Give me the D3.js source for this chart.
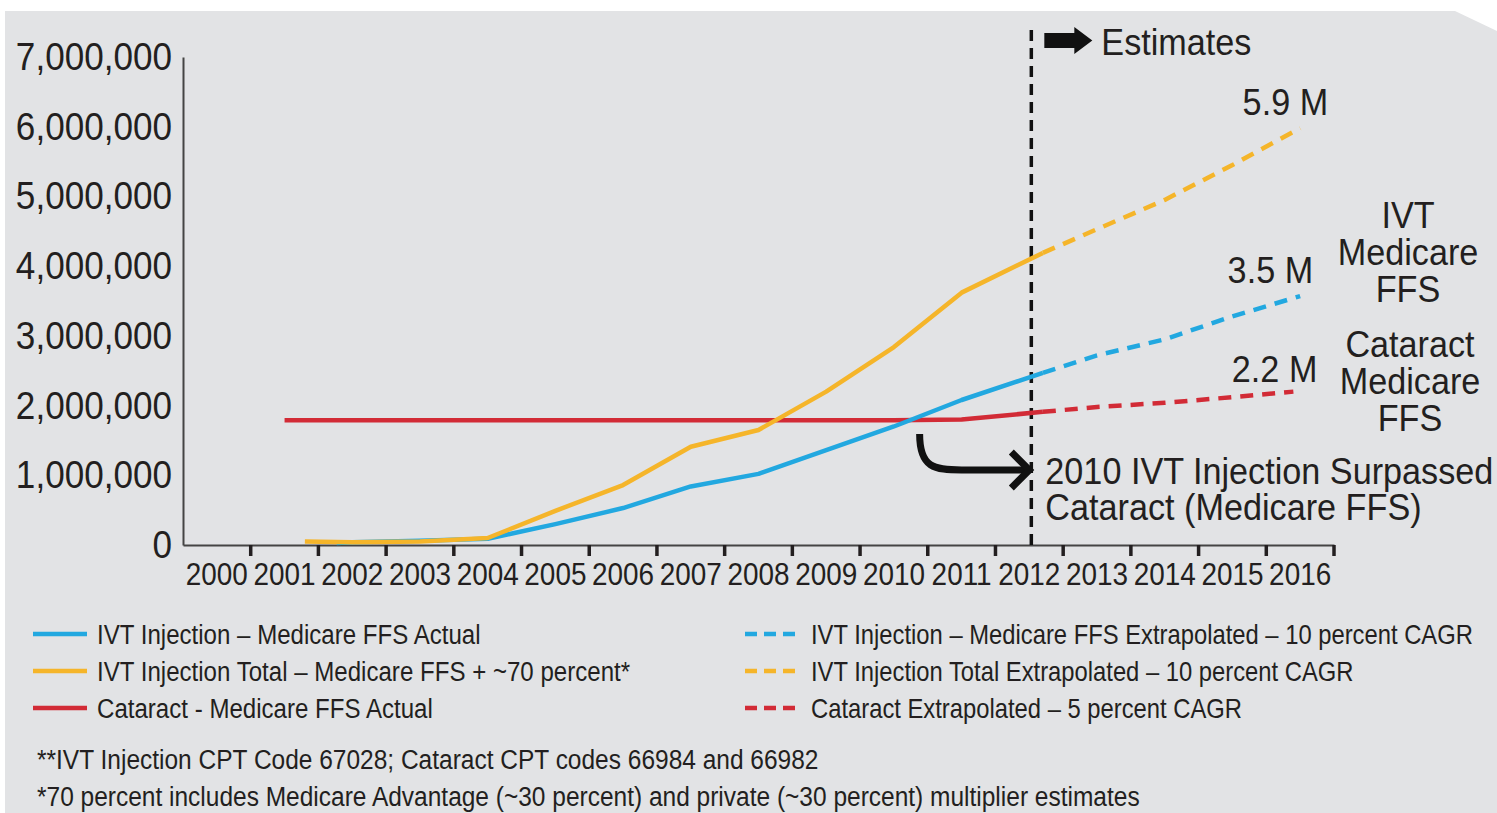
<!DOCTYPE html>
<html>
<head>
<meta charset="utf-8">
<script src="https://cdn.jsdelivr.net/npm/d3@7"></script>
<style>
  html, body { margin: 0; padding: 0; background: #fff; }
  svg { display: block; }
  text { font-family: "Liberation Sans", Arial, Helvetica, sans-serif; fill: #231f20; }
</style>
</head>
<body>
<div id="chart"></div>
<script>
// tick labels
const yearLabels = ["2000","2001","2002","2003","2004","2005","2006","2007","2008","2009","2010","2011","2012","2013","2014","2015","2016"];
const yTicks = [0, 1000000, 2000000, 3000000, 4000000, 5000000, 6000000, 7000000];

// actual series (millions)
const ivtActualYears = [2001.77, 2002, 2003, 2004, 2005, 2006, 2007, 2008, 2009, 2010, 2011, 2012.2];
const ivtActual      = [0.03, 0.04, 0.06, 0.09, 0.30, 0.53, 0.84, 1.02, 1.36, 1.70, 2.08, 2.47];
const ivtTotalYears  = [2001.3, 2002, 2003, 2004, 2005, 2006, 2007, 2008, 2009, 2010, 2011, 2012.2];
const ivtTotal       = [0.05, 0.04, 0.05, 0.10, 0.49, 0.86, 1.41, 1.65, 2.20, 2.84, 3.62, 4.19];
const cataractYears  = [2001, 2002, 2003, 2004, 2005, 2006, 2007, 2008, 2009, 2010, 2011, 2012.2];
const cataract       = [1.79, 1.79, 1.79, 1.79, 1.79, 1.79, 1.79, 1.79, 1.79, 1.79, 1.80, 1.91];

// extrapolated series (millions)
const projYears         = [2012.2, 2013, 2014, 2015, 2016];
const ivtActualProj     = [2.47, 2.72, 2.95, 3.28, 3.57];
const ivtTotalProj      = [4.19, 4.53, 4.95, 5.45, 5.98];
const cataractProjYears = [2012.2, 2013, 2014, 2015, 2015.9];
const cataractProj      = [1.91, 1.98, 2.04, 2.12, 2.20];

const splitYear = 2012;

const endValues = ["5.9 M", "3.5 M", "2.2 M"];
const legendLeft  = ["IVT Injection – Medicare FFS Actual", "IVT Injection Total – Medicare FFS + ~70 percent*", "Cataract - Medicare FFS Actual"];
const legendRight = ["IVT Injection – Medicare FFS Extrapolated – 10 percent CAGR", "IVT Injection Total Extrapolated – 10 percent CAGR", "Cataract Extrapolated – 5 percent CAGR"];
const footnotes = ["**IVT Injection CPT Code 67028; Cataract CPT codes 66984 and 66982",
                   "*70 percent includes Medicare Advantage (~30 percent) and private (~30 percent) multiplier estimates"];

const colors = ["#22a8e0", "#f5b52a", "#d22b36"];

const W = 1497, H = 813;
const svg = d3.select("#chart").append("svg").attr("width", W).attr("height", H);

// condensed-looking text: squeeze horizontally around the anchor point
function label(parent, x, y, str, size, k, anchor = "start") {
  return parent.append("text")
               .attr("transform", `translate(${x},${y}) scale(${k},1)`)
               .attr("text-anchor", anchor)
               .style("font-size", size + "px")
               .text(str);
}

// gray panel with clipped top-right corner
svg.append("path")
   .attr("d", `M5,11 L1455,11 L1497,31 L1497,${H} L5,${H} Z`)
   .attr("fill", "#e2e3e5");

const x = d3.scaleBand(yearLabels, [183, 1334]);
const bw = x.bandwidth();
const xp = d3.scaleLinear([2000, 2016], [x("2000") + bw / 2, x("2016") + bw / 2]);
const y = d3.scaleLinear([0, 7000000], [545, 57]);

// y axis
const ky = 0.9;
svg.append("g")
   .attr("transform", "translate(183,0)")
   .call(d3.axisLeft(y).tickValues(yTicks).tickFormat(d3.format(",")).tickSize(0).tickPadding(11))
   .call(g => g.select(".domain").attr("stroke", "#444").attr("stroke-width", 2))
   .call(g => g.selectAll("text")
               .style("font-size", "39px")
               .attr("fill", "#231f20")
               .attr("x", -11 / ky)
               .attr("transform", `scale(${ky},1)`));

// x axis: labels centred in bands, ticks on band edges
svg.append("g")
   .attr("transform", "translate(0,545)")
   .call(d3.axisBottom(x).tickSize(0).tickPadding(18))
   .call(g => g.select(".domain").attr("stroke", "#444").attr("stroke-width", 2))
   .call(g => g.selectAll("text")
               .style("font-size", "31px")
               .attr("fill", "#231f20")
               .attr("transform", "scale(0.9,1)"));

svg.append("g")
   .selectAll("line")
   .data(yearLabels)
   .join("line")
   .attr("x1", d => x(d) + bw)
   .attr("x2", d => x(d) + bw)
   .attr("y1", 545)
   .attr("y2", 556)
   .attr("stroke", "#231f20")
   .attr("stroke-width", 3.5);

// estimates divider
const xs = xp(splitYear);
svg.append("line")
   .attr("x1", xs + 2).attr("x2", xs + 2)
   .attr("y1", 30).attr("y2", 545)
   .attr("stroke", "#111")
   .attr("stroke-width", 3.5)
   .attr("stroke-dasharray", "11,7");

const line = d3.line()
               .x(d => xp(d[0]))
               .y(d => y(d[1] * 1e6));

const pairs = (xsArr, ysArr) => xsArr.map((v, i) => [v, ysArr[i]]);

const seriesColors = [colors[2], colors[0], colors[1]];
const solid = [pairs(cataractYears, cataract), pairs(ivtActualYears, ivtActual), pairs(ivtTotalYears, ivtTotal)];
const dashed = [pairs(cataractProjYears, cataractProj), pairs(projYears, ivtActualProj), pairs(projYears, ivtTotalProj)];

svg.append("g")
   .selectAll("path")
   .data(solid)
   .join("path")
   .attr("d", line)
   .attr("fill", "none")
   .attr("stroke", (d, i) => seriesColors[i])
   .attr("stroke-width", 4.5)
   .attr("stroke-linejoin", "round");

svg.append("g")
   .selectAll("path")
   .data(dashed)
   .join("path")
   .attr("d", line)
   .attr("fill", "none")
   .attr("stroke", (d, i) => seriesColors[i])
   .attr("stroke-width", 4.5)
   .attr("stroke-dasharray", "13,9");

const ann = svg.append("g");
const ka = 0.95, fa = 36;

// "Estimates" block arrow + text
const ax = xs + 15;
ann.append("path")
   .attr("d", `M${ax},33 L${ax + 30},33 L${ax + 30},27 L${ax + 48},40.5 L${ax + 30},54 L${ax + 30},48 L${ax},48 Z`)
   .attr("fill", "#111");
label(ann, ax + 57, 55, "Estimates", fa, ka);

// end value labels, anchored at the last point of each extrapolated series
const lastPts = [dashed[2][4], dashed[1][4], dashed[0][4]];
const endOffsets = [[28, -13], [13, -13], [24, -10]];
endValues.forEach((s, i) => {
  const p = lastPts[i];
  label(ann, xp(p[0]) + endOffsets[i][0], y(p[1] * 1e6) + endOffsets[i][1], s, fa, ka, "end");
});

// series names at the right
[[["IVT", "Medicare", "FFS"], 1408, 228], [["Cataract", "Medicare", "FFS"], 1410, 357]]
  .forEach(([lines, cx, top]) => lines.forEach((s, i) => label(ann, cx, top + i * 37, s, fa, ka, "middle")));

// 2010 crossover annotation
ann.append("path")
   .attr("d", `M${xp(2010.38)},434 C${xp(2010.38)},468 ${xp(2010.6)},470 ${xp(2011)},470 L${xs - 4},470`)
   .attr("fill", "none")
   .attr("stroke", "#111")
   .attr("stroke-width", 7);
ann.append("path")
   .attr("d", `M${xs - 18},452 L${xs},470 L${xs - 18},488`)
   .attr("fill", "none")
   .attr("stroke", "#111")
   .attr("stroke-width", 7);
label(ann, xs + 16, 484, "2010 IVT Injection Surpassed", fa, ka);
label(ann, xs + 16, 520, "Cataract (Medicare FFS)", fa, ka);

// legend
const kl = 0.86, fl = 28;
const legendRows = [634, 671, 708];
const lg = svg.append("g");
legendLeft.forEach((s, i) => {
  lg.append("line")
    .attr("x1", 33).attr("x2", 87)
    .attr("y1", legendRows[i]).attr("y2", legendRows[i])
    .attr("stroke", colors[i])
    .attr("stroke-width", 4.5);
  label(lg, 97, legendRows[i] + 10, s, fl, kl);
});
legendRight.forEach((s, i) => {
  lg.append("line")
    .attr("x1", 745).attr("x2", 801)
    .attr("y1", legendRows[i]).attr("y2", legendRows[i])
    .attr("stroke", colors[i])
    .attr("stroke-width", 4.5)
    .attr("stroke-dasharray", "12,7");
  label(lg, 811, legendRows[i] + 10, s, fl, 0.85);
});

// footnotes
footnotes.forEach((s, i) => label(svg, 37, 769 + i * 37, s, fl, 0.875));
</script>
</body>
</html>
